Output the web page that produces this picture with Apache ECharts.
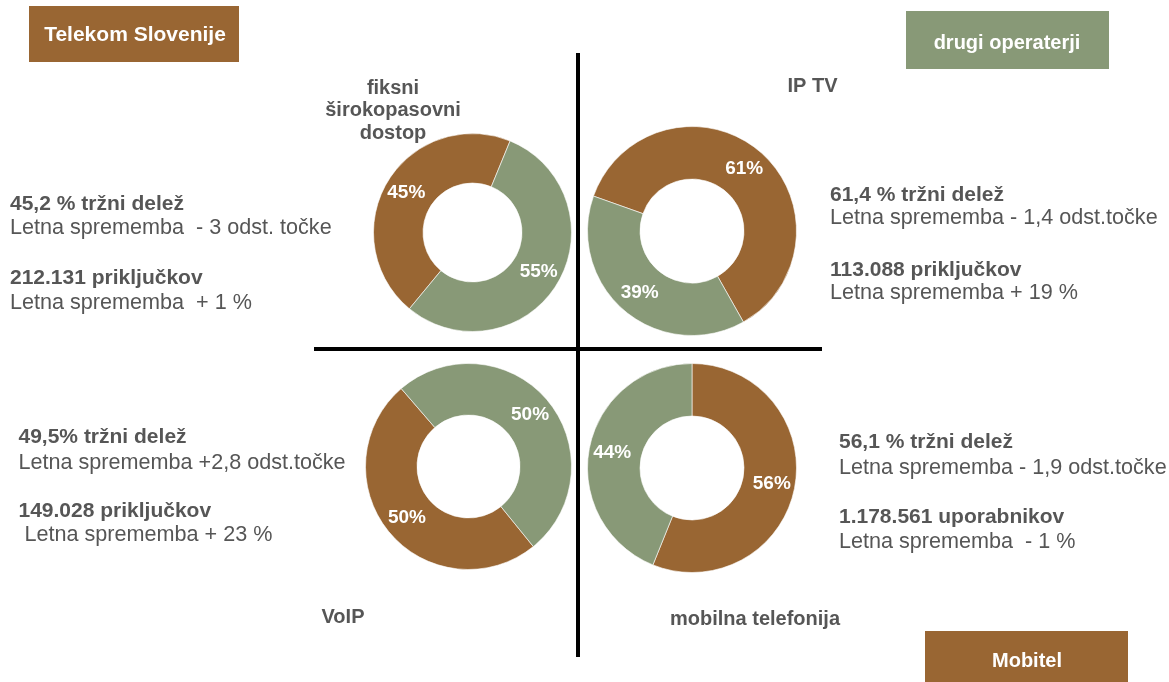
<!DOCTYPE html>
<html>
<head>
<meta charset="utf-8">
<script src="https://cdn.jsdelivr.net/npm/echarts@6/dist/echarts.min.js"></script>
<style>
html,body{margin:0;padding:0;background:#fff;}
#chart{width:1169px;height:682px;}
</style>
</head>
<body>
<div id="chart"></div>
<script>
// ---- data ----
const categories = ['fiksni\nširokopasovni\ndostop', 'IP TV', 'VoIP', 'mobilna telefonija'];
const seriesNames = ['Telekom Slovenije / Mobitel', 'drugi operaterji'];
const telekomShare = [45.2, 61.4, 49.5, 56.1];
const otherShare = [54.8, 38.6, 50.5, 43.9];
const groupLabels = ['Telekom Slovenije', 'drugi operaterji', 'Mobitel'];
const shareLines = ['45,2 % tržni delež', '61,4 % tržni delež', '49,5% tržni delež', '56,1 % tržni delež'];
const shareChange = ['Letna sprememba  - 3 odst. točke', 'Letna sprememba - 1,4 odst.točke', 'Letna sprememba +2,8 odst.točke', 'Letna sprememba - 1,9 odst.točke'];
const countLines = ['212.131 priključkov', '113.088 priključkov', '149.028 priključkov', '1.178.561 uporabnikov'];
const countChange = ['Letna sprememba  + 1 %', 'Letna sprememba + 19 %', ' Letna sprememba + 23 %', 'Letna sprememba  - 1 %'];

// ---- layout / style ----
const BROWN = '#996633';
const GREEN = '#889977';
const TEXT = '#565656';
const FONT = "'Liberation Sans', Arial, Helvetica, sans-serif";
const pieCenters = [[472.5, 232.5], [692, 231], [468.5, 466.5], [692, 468]];
const pieRadii = [[49.5, 99], [52, 104.5], [51.5, 103], [52, 104.5]];
const pieStart = [-129.6, -199.5, -51, 90];
const titlePos = [[393, 110.8], [812.5, 86.7], [343, 617.3], [755, 619]];
const blockX = [10, 830, 18.5, 839];
const blockY = [[204.3, 228.3, 278.3, 303.3], [195, 218.3, 270, 293.3], [437.3, 462.7, 511, 535], [442.7, 467.7, 517.7, 541.7]];
const boxes = [
  {rect: [29, 6, 210, 56], text: [135, 35.5], fill: BROWN, size: 21},
  {rect: [906, 11, 203, 58], text: [1007, 43], fill: GREEN, size: 20},
  {rect: [925, 631, 203, 52], text: [1027, 661], fill: BROWN, size: 20}
];

const chart = echarts.init(document.getElementById('chart'), null, {renderer: 'canvas'});

const series = categories.map((c, i) => ({
  type: 'pie',
  name: c,
  center: pieCenters[i],
  radius: pieRadii[i],
  startAngle: pieStart[i],
  clockwise: true,
  percentPrecision: 0,
  silent: true,
  avoidLabelOverlap: false,
  labelLine: {show: false},
  label: {
    show: true, position: 'inside', formatter: '{d}%',
    color: '#ffffff', fontFamily: FONT, fontWeight: 'bold', fontSize: 19
  },
  itemStyle: {borderColor: '#ffffff', borderWidth: 0.6},
  emphasis: {disabled: true},
  data: [
    {name: seriesNames[0], value: telekomShare[i], itemStyle: {color: BROWN}},
    {name: seriesNames[1], value: otherShare[i], itemStyle: {color: GREEN}}
  ]
}));

const graphics = [];
// divider lines
graphics.push({type: 'line', shape: {x1: 578, y1: 53, x2: 578, y2: 657}, style: {stroke: '#000', lineWidth: 4}});
graphics.push({type: 'line', shape: {x1: 314, y1: 349, x2: 822, y2: 349}, style: {stroke: '#000', lineWidth: 4}});
// boxes
boxes.forEach((b, i) => {
  graphics.push({type: 'rect', shape: {x: b.rect[0], y: b.rect[1], width: b.rect[2], height: b.rect[3]}, style: {fill: b.fill}});
  graphics.push({type: 'text', x: b.text[0], y: b.text[1], style: {
    text: groupLabels[i], fill: '#ffffff', fontFamily: FONT, fontWeight: 'bold', fontSize: b.size,
    align: 'center', verticalAlign: 'middle'}});
});
// category titles
categories.forEach((c, i) => {
  graphics.push({type: 'text', x: titlePos[i][0], y: titlePos[i][1], style: {
    text: c, fill: TEXT, fontFamily: FONT, fontWeight: 'bold', fontSize: 20, lineHeight: 22.5,
    align: 'center', verticalAlign: 'middle'}});
});
// text blocks
for (let i = 0; i < 4; i++) {
  const lines = [shareLines[i], shareChange[i], countLines[i], countChange[i]];
  lines.forEach((t, k) => {
    const bold = (k % 2 === 0);
    graphics.push({type: 'text', x: blockX[i], y: blockY[i][k], style: {
      text: t, fill: TEXT, fontFamily: FONT, fontWeight: bold ? 'bold' : 'normal', fontSize: bold ? 21 : 21.6,
      align: 'left', verticalAlign: 'middle'}});
  });
}

chart.setOption({
  animation: false,
  backgroundColor: '#ffffff',
  series: series,
  graphic: graphics
});
</script>
</body>
</html>
